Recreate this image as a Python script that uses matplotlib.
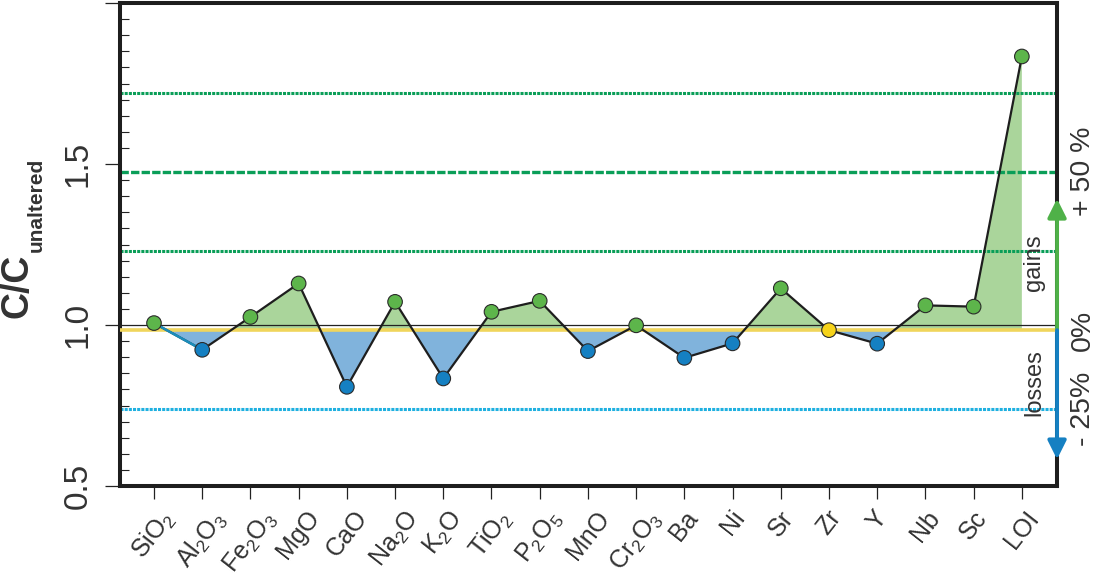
import numpy as np
import matplotlib.pyplot as plt

plt.rcParams['font.family'] = ['Liberation Sans', 'DejaVu Sans']
plt.rcParams['mathtext.fontset'] = 'custom'
plt.rcParams['mathtext.rm'] = 'Liberation Sans'
plt.rcParams['mathtext.it'] = 'Liberation Sans:italic'
plt.rcParams['mathtext.bf'] = 'Liberation Sans:bold'
plt.rcParams['lines.scale_dashes'] = False

# dados
elements = ['SiO$_2$', 'Al$_2$O$_3$', 'Fe$_2$O$_3$', 'MgO', 'CaO', 'Na$_2$O', 'K$_2$O',
            'TiO$_2$', 'P$_2$O$_5$', 'MnO', 'Cr$_2$O$_3$', 'Ba', 'Ni', 'Sr', 'Zr', 'Y',
            'Nb', 'Sc', 'LOI']
ratio = [1.006, 0.923, 1.025, 1.129, 0.808, 1.072, 0.834, 1.041, 1.075, 0.919,
         0.999, 0.898, 0.943, 1.114, 0.984, 0.942, 1.061, 1.057, 1.834]
ref_index = 14  # Zr = elemento imóvel (linha amarela)
gain_levels = [1.25, 1.5, 1.75]
loss_levels = [0.75]
right_labels = [('+ 50 %', 1.5), ('0%', 1.0), ('- 25%', 0.75)]

x = np.arange(len(elements))
y = np.array(ratio)
base = ratio[ref_index]

green_fill = '#aad59b'
blue_fill = '#80b3dc'
green_pt = '#5db54b'
blue_pt = '#1580c2'
yellow_pt = '#f6d31a'
line_green = '#0a9e58'
line_cyan = '#1fb0e0'

fig = plt.figure(figsize=(10.98, 5.81), dpi=100)
ax = fig.add_axes([0.1093, 0.1635, 0.8534, 0.8313])

# preenchimento ganhos / perdas
ax.fill_between(x, y, base, where=y >= base, interpolate=True, color=green_fill, lw=0, zorder=1)
ax.fill_between(x, y, base, where=y <= base, interpolate=True, color=blue_fill, lw=0, zorder=1)

# linhas de referência
for lv in gain_levels:
    if lv == 1.5:
        ax.axhline(lv * base, color=line_green, lw=2.4, dashes=(6, 1.6), zorder=2)
    else:
        ax.axhline(lv * base, color=line_green, lw=2.2, dashes=(2.2, 0.8), zorder=2)
for lv in loss_levels:
    ax.axhline(lv * base, color=line_cyan, lw=2.2, dashes=(2.2, 0.8), zorder=2)

ax.axhline(1.0, color='#222222', lw=0.9, zorder=3)
ax.axhline(base, color='#f0d55c', lw=2.6, zorder=3)

# linha dos dados
ax.plot(x, y, color='#1e1e1e', lw=1.6, zorder=4)
ax.plot(x[:2], y[:2], color='#1a8dbb', lw=1.8, zorder=4)

colors = []
for i, v in enumerate(ratio):
    if i == ref_index:
        colors.append(yellow_pt)
    elif v > base:
        colors.append(green_pt)
    else:
        colors.append(blue_pt)
ax.scatter(x, y, s=110, c=colors, edgecolors='#2a2a2a', linewidths=0.8, zorder=5)

ax.set_xlim(-0.705, 18.73)
ax.set_ylim(0.5, 2.0)

for s in ax.spines.values():
    s.set_linewidth(2.9)
    s.set_color('#1e1e1e')

ax.set_xticks(x)
ax.set_xticklabels(elements, rotation=52, ha='center', va='top', fontsize=18, color='#333333')
ax.tick_params(axis='x', direction='out', length=9.5, width=0.9, pad=5, color='#222222')

ax.set_yticks([0.5, 1.0, 1.5, 2.0])
ax.set_yticklabels(['0.5', '1.0', '1.5', ''])
ax.set_yticks(np.arange(0.55, 2.0, 0.05), minor=True)
ax.tick_params(axis='y', which='major', direction='out', length=11, width=0.9,
               labelsize=24, pad=8, color='#222222', labelcolor='#333333')
ax.tick_params(axis='y', which='minor', direction='in', length=6.5, width=0.8, color='#222222')
for lab in ax.get_yticklabels():
    lab.set_rotation(90)
    lab.set_va('center')

# rótulo do eixo y: C/C com subscrito menor
fig.text(27 / 1098, 1 - 318 / 581, 'C/C', rotation=90, rotation_mode='anchor',
         ha='left', va='baseline', fontsize=27, fontweight='bold', color='#333333')
fig.text(42 / 1098, 1 - 252 / 581, 'unaltered', rotation=90, rotation_mode='anchor',
         ha='left', va='baseline', fontsize=15, fontweight='bold', color='#333333')

# setas de ganhos e perdas no eixo direito
ax.annotate('', xy=(1.0, 1.392), xycoords=('axes fraction', 'data'),
            xytext=(1.0, base), textcoords=('axes fraction', 'data'),
            arrowprops=dict(arrowstyle='-|>', color='#4fb148', lw=2.8,
                            mutation_scale=28, shrinkA=0, shrinkB=0),
            annotation_clip=False, zorder=6)
ax.annotate('', xy=(1.0, 0.583), xycoords=('axes fraction', 'data'),
            xytext=(1.0, base), textcoords=('axes fraction', 'data'),
            arrowprops=dict(arrowstyle='-|>', color='#1580c2', lw=2.8,
                            mutation_scale=28, shrinkA=0, shrinkB=0),
            annotation_clip=False, zorder=6)

ax.text(0.9755, 1.193, 'gains', transform=ax.get_yaxis_transform(), rotation=90,
        ha='center', va='center', fontsize=17, color='#333333', zorder=6)
ax.text(0.9755, 0.822, 'losses', transform=ax.get_yaxis_transform(), rotation=90,
        ha='center', va='center', fontsize=17, color='#333333', zorder=6)

for txt, lv in right_labels:
    ax.text(1.0275, lv * base, txt, transform=ax.get_yaxis_transform(), rotation=90,
            ha='center', va='center', fontsize=20.5, color='#333333', clip_on=False)

plt.savefig('out.png', dpi=100)
